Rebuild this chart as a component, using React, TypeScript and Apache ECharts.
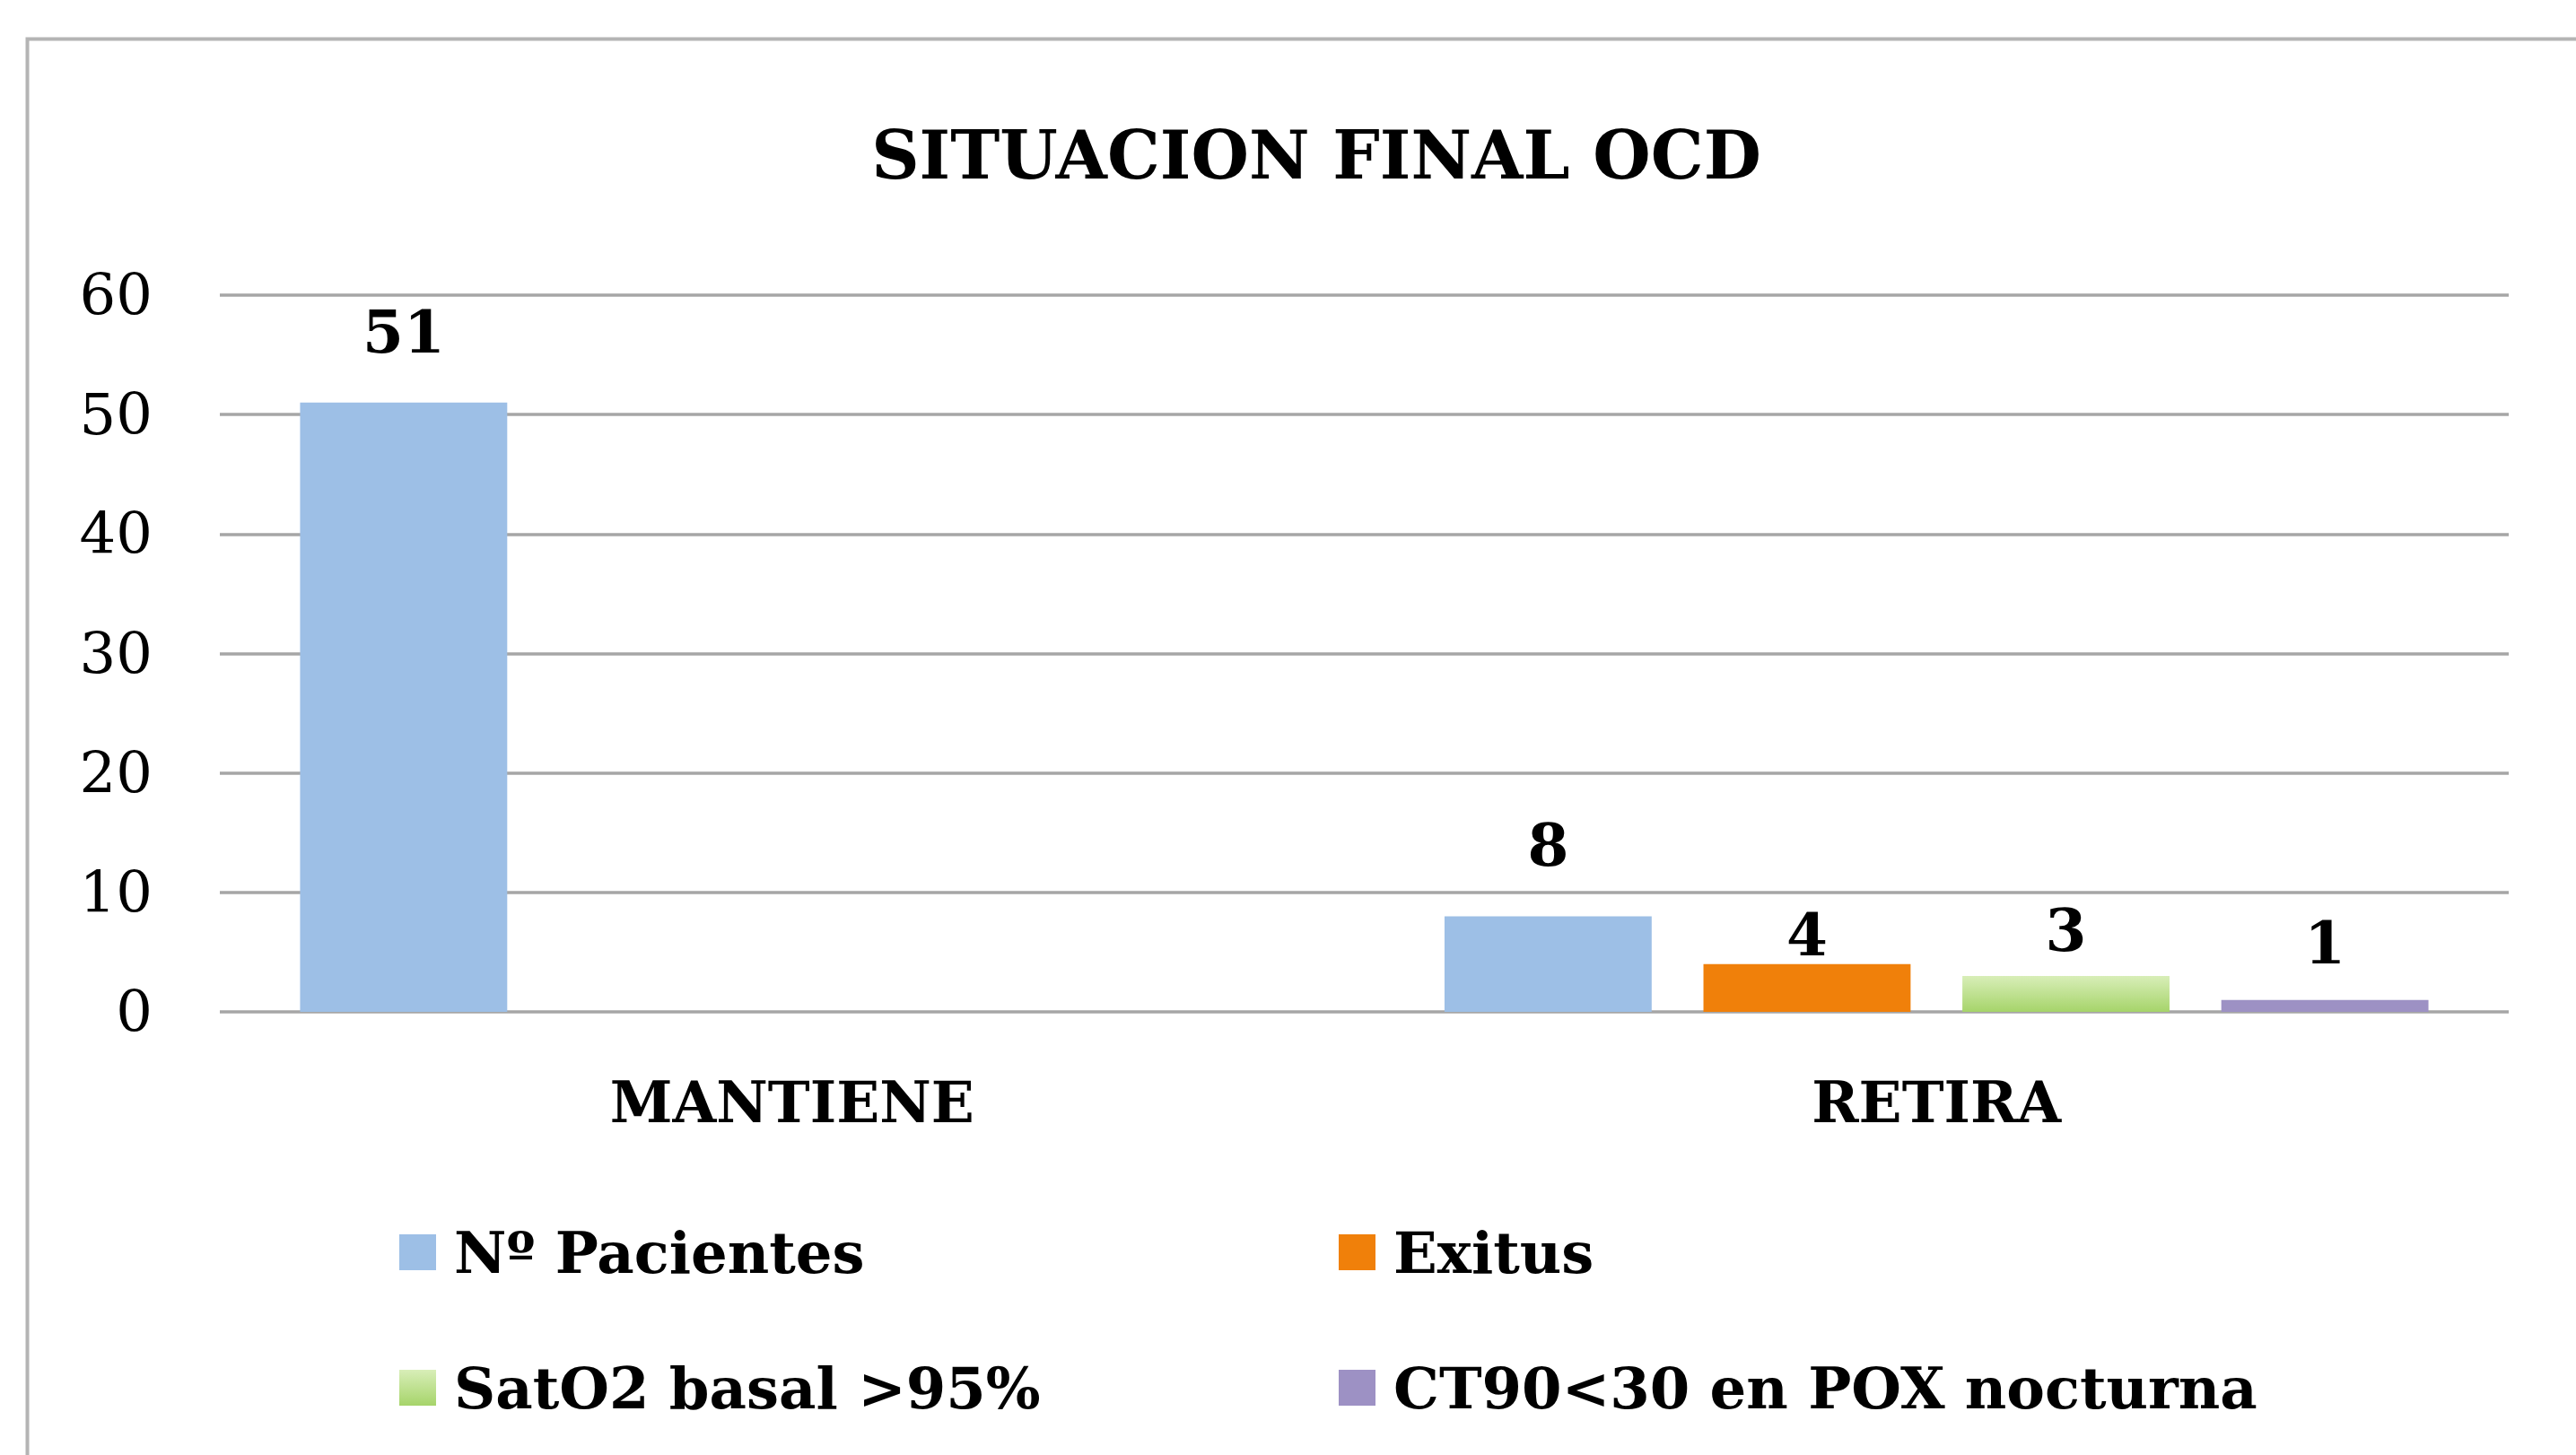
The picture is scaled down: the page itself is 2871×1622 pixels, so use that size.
import React, { useEffect, useRef } from "react";
import * as echarts from "echarts";

const title = "SITUACION FINAL OCD";
const categories = ["MANTIENE", "RETIRA"];
const seriesNames = ["Nº Pacientes", "Exitus", "SatO2 basal >95%", "CT90<30 en POX nocturna"];
const pacientes: (number | null)[] = [51, 8];
const exitus: (number | null)[] = [null, 4];
const satO2: (number | null)[] = [null, 3];
const ct90: (number | null)[] = [null, 1];
const yTicks = { min: 0, max: 60, interval: 10 };

const FONT = "DejaVu Serif";

export default function App() {
  const ref = useRef<HTMLDivElement>(null);
  useEffect(() => {
    document.body.style.margin = "0";
    const chart = echarts.init(ref.current!, null, { renderer: "svg" });
    const green = new echarts.graphic.LinearGradient(0, 0, 0, 1, [
      { offset: 0, color: "#D8EEB8" },
      { offset: 1, color: "#A6D46A" },
    ]);
    const colors: any[] = ["#9DBFE6", "#F0800A", green, "#9D91C4"];
    const values = [pacientes, exitus, satO2, ct90];
    const distances = [46, 0, 18, 31];
    const labelStyle = {
      show: true,
      position: "top",
      fontFamily: FONT,
      fontWeight: "bold",
      fontSize: 66,
      lineHeight: 66,
      color: "#000",
    };
    const legendPos = [
      { left: 445, top: 1361 },
      { left: 1492, top: 1361 },
      { left: 445, top: 1512 },
      { left: 1492, top: 1512 },
    ];
    chart.setOption({
      animation: false,
      backgroundColor: "#fff",
      title: {
        text: title,
        left: 1462,
        top: 131,
        textAlign: "center",
        textStyle: {
          fontFamily: FONT,
          fontWeight: "bold",
          fontSize: 74,
          lineHeight: 74,
          color: "#000",
        },
      },
      graphic: [
        {
          type: "rect",
          left: 28,
          top: 41,
          shape: { x: 0, y: 0, width: 3200, height: 2000 },
          style: { fill: "none", stroke: "#b4b4b4", lineWidth: 4 },
          silent: true,
        },
      ],
      legend: seriesNames.map((n, i) => ({
        data: [n],
        left: legendPos[i].left,
        top: legendPos[i].top,
        padding: 0,
        itemWidth: 41,
        itemHeight: 40,
        icon: "rect",
        selectedMode: false,
        textStyle: {
          fontFamily: FONT,
          fontWeight: "bold",
          fontSize: 64,
          lineHeight: 70,
          color: "#000",
          padding: [0, 0, 0, 15],
        },
      })),
      grid: { left: 245, right: 75, top: 329, bottom: 494, containLabel: false },
      xAxis: {
        type: "category",
        data: categories,
        axisLine: { show: false },
        axisTick: { show: false },
        axisLabel: {
          fontFamily: FONT,
          fontWeight: "bold",
          fontSize: 63,
          lineHeight: 63,
          color: "#000",
          margin: 69,
        },
      },
      yAxis: {
        type: "value",
        min: yTicks.min,
        max: yTicks.max,
        interval: yTicks.interval,
        axisLine: { show: false },
        axisTick: { show: false },
        splitLine: { lineStyle: { color: "#a6a6a6", width: 3.5 } },
        axisLabel: {
          fontFamily: FONT,
          fontSize: 64,
          color: "#000",
          margin: 75,
        },
      },
      series: seriesNames.map((n, i) => ({
        name: n,
        type: "bar",
        data: values[i],
        barWidth: "18.1%",
        barGap: "25%",
        itemStyle: { color: colors[i] },
        label: { ...labelStyle, distance: distances[i] },
      })),
    });
    return () => chart.dispose();
  }, []);
  return <div ref={ref} style={{ width: 2871, height: 1622 }} />;
}
